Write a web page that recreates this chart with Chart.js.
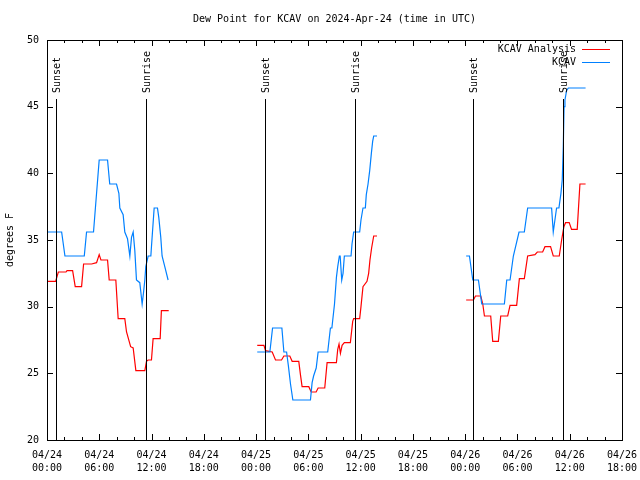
<!DOCTYPE html>
<html>
<head>
<meta charset="utf-8">
<script src="https://cdn.jsdelivr.net/npm/chart.js@4.4.1/dist/chart.umd.min.js"></script>
<style>
  html, body { margin: 0; padding: 0; background: #fff; }
  canvas { display: block; }
</style>
</head>
<body>
<canvas id="dewChart" width="640" height="480"></canvas>
<script>
// [hours since 04/24 00:00 UTC, dew point F]
const analysisDay1 = [[0, 31.9], [0.99, 31.9], [1.3, 32.6], [2.18, 32.6], [2.3, 32.7], [2.94, 32.7], [3.24, 31.5], [3.97, 31.5],
    [4.2, 33.2], [5.12, 33.2], [5.69, 33.3], [5.99, 33.9], [6.19, 33.5], [6.95, 33.5], [7.14, 32.0], [7.9, 32.0],
    [8.17, 29.1], [8.93, 29.1], [9.13, 28.1], [9.6, 27.0], [9.89, 26.9], [10.2, 25.2], [11.23, 25.2], [11.42, 25.9],
    [11.61, 26.0], [11.99, 26.0], [12.18, 27.6], [12.99, 27.6], [13.13, 29.7], [13.97, 29.7]];
const analysisDay2 = [[24.13, 27.1], [24.9, 27.1], [25.08, 26.7], [25.85, 26.6], [26.23, 26.0], [26.92, 26.0], [27.19, 26.3],
    [27.87, 26.3], [28.14, 25.9], [28.9, 25.9], [29.09, 24.9], [29.28, 24.0], [30.05, 24.0], [30.32, 23.6], [30.89, 23.6],
    [31.12, 23.9], [31.88, 23.9], [32.15, 25.8], [33.22, 25.8], [33.37, 26.8], [33.52, 27.2], [33.68, 26.5], [33.87, 27.1],
    [34.13, 27.3], [34.82, 27.3], [35.09, 28.9], [35.2, 29.1], [35.89, 29.1], [36.04, 30.0], [36.27, 31.5], [36.73, 31.9],
    [36.92, 32.5], [37.07, 33.5], [37.26, 34.4], [37.5, 35.3], [37.88, 35.3]];
const analysisDay3 = [[48.11, 30.5], [48.95, 30.5], [49.18, 30.8], [49.79, 30.8], [50.02, 30.2], [50.21, 29.3], [50.93, 29.3],
    [51.16, 27.4], [51.81, 27.4], [52.08, 29.3], [52.88, 29.3], [53.15, 30.1], [53.91, 30.1], [54.22, 32.1], [54.79, 32.1],
    [55.17, 33.8], [56.01, 33.9], [56.28, 34.1], [56.89, 34.1], [57.16, 34.5], [57.8, 34.5], [58.11, 33.8], [58.8, 33.8],
    [59.07, 35.0], [59.33, 36.0], [59.52, 36.3], [59.94, 36.3], [60.21, 35.8], [60.86, 35.8], [61.17, 39.2], [61.82, 39.2]];

const obsDay1 = [[0, 35.6], [1.68, 35.6], [2.06, 33.8], [4.28, 33.8], [4.54, 35.6], [5.34, 35.6], [5.99, 41.0], [6.95, 41.0],
    [7.2, 39.2], [7.98, 39.2], [8.25, 38.5], [8.36, 37.4], [8.74, 36.9], [8.93, 35.6], [9.24, 35.1], [9.51, 33.8],
    [9.7, 35.2], [9.89, 35.6], [10.08, 34.2], [10.27, 32.0], [10.65, 31.8], [10.77, 31.1], [10.92, 30.2], [11.07, 31.0],
    [11.23, 32.0], [11.34, 33.0], [11.61, 33.8], [11.92, 33.8], [11.99, 34.5], [12.3, 37.4], [12.68, 37.4], [12.83, 36.7],
    [13.06, 35.2], [13.21, 33.8], [13.52, 33.0], [13.9, 32.0]];
const obsDay2 = [[24.13, 26.6], [25.58, 26.6], [25.89, 28.4], [26.96, 28.4], [27.19, 26.6], [27.5, 26.6], [27.7, 25.6],
    [27.95, 24.2], [28.22, 23.0], [30.24, 23.0], [30.43, 24.3], [30.6, 24.8], [30.9, 25.4], [31.12, 26.6], [32.22, 26.6],
    [32.53, 28.4], [32.7, 28.4], [33.0, 30.2], [33.22, 32.2], [33.37, 33.0], [33.56, 33.8], [33.65, 33.8], [33.83, 32.0],
    [33.98, 32.5], [34.13, 33.8], [34.9, 33.8], [35.01, 34.7], [35.2, 35.6], [35.89, 35.6], [36.04, 36.5], [36.27, 37.4],
    [36.54, 37.4], [36.65, 38.4], [36.85, 39.2], [37.04, 40.2], [37.23, 41.5], [37.38, 42.4], [37.5, 42.8], [37.88, 42.8]];
const obsDay3 = [[48.11, 33.8], [48.49, 33.8], [48.87, 32.0], [49.52, 32.0], [49.9, 30.2], [52.5, 30.2], [52.77, 32.0],
    [53.15, 32.0], [53.53, 33.8], [54.18, 35.6], [54.79, 35.6], [55.17, 37.4], [57.92, 37.4], [58.11, 35.6], [58.3, 36.5],
    [58.49, 37.4], [58.76, 37.4], [58.99, 38.5], [59.14, 39.5], [59.26, 42.0], [59.35, 45.0], [59.45, 45.5], [59.64, 46.2],
    [59.84, 46.4], [61.82, 46.4]];

const sunTimes = [1.07, 11.38, 25.01, 35.32, 48.95, 59.26];
const sunLabels = ['Sunset', 'Sunrise', 'Sunset', 'Sunrise', 'Sunset', 'Sunrise'];
const seriesNames = ['KCAV Analysis', 'KCAV'];
const seriesColors = ['#ff0000', '#0080ff'];

const MONO = '"DejaVu Sans Mono", "Liberation Mono", monospace';

// join the days with a null so the line breaks
function joinDays(...days) {
    const pts = [];
    days.forEach((d, i) => {
        if (i > 0) pts.push({ x: d[0][0] - 0.01, y: null });
        d.forEach(p => pts.push({ x: p[0], y: p[1] }));
    });
    return pts;
}

const frame = {
    id: 'frame',
    afterDatasetsDraw(chart) {
        const { ctx, chartArea: a, scales: { x, y } } = chart;
        ctx.save();
        ctx.strokeStyle = '#000';
        ctx.fillStyle = '#000';
        ctx.lineWidth = 1;
        ctx.font = '10px ' + MONO;

        // sunrise / sunset markers
        sunTimes.forEach((t, i) => {
            const px = Math.round(x.getPixelForValue(t)) + 0.5;
            ctx.beginPath();
            ctx.moveTo(px, a.top + 59);
            ctx.lineTo(px, a.bottom);
            ctx.stroke();
            ctx.save();
            ctx.translate(px + 1, a.top + 53);
            ctx.rotate(-Math.PI / 2);
            ctx.textAlign = 'left';
            ctx.textBaseline = 'middle';
            ctx.fillText(sunLabels[i], 0, 0);
            ctx.restore();
        });

        // inward ticks, mirrored
        ctx.beginPath();
        for (let h = 2; h < 66; h += 2) {
            const px = Math.round(x.getPixelForValue(h)) + 0.5;
            const len = h % 6 === 0 ? 6 : 3;
            ctx.moveTo(px, a.bottom); ctx.lineTo(px, a.bottom - len);
            ctx.moveTo(px, a.top); ctx.lineTo(px, a.top + len);
        }
        for (let v = 25; v < 50; v += 5) {
            const py = Math.round(y.getPixelForValue(v)) + 0.5;
            ctx.moveTo(a.left, py); ctx.lineTo(a.left + 6, py);
            ctx.moveTo(a.right, py); ctx.lineTo(a.right - 6, py);
        }
        ctx.stroke();

        // border
        ctx.strokeRect(Math.round(a.left) + 0.5, Math.round(a.top) + 0.5,
            Math.round(a.right - a.left), Math.round(a.bottom - a.top));

        // title
        ctx.textAlign = 'center';
        ctx.textBaseline = 'middle';
        ctx.fillText('Dew Point for KCAV on 2024-Apr-24 (time in UTC)', (a.left + a.right) / 2, 19);

        // legend
        ctx.textAlign = 'right';
        seriesNames.forEach((name, i) => {
            const ly = 49 + i * 13;
            ctx.fillStyle = '#000';
            ctx.fillText(name, 576, ly);
            ctx.strokeStyle = seriesColors[i];
            ctx.beginPath();
            ctx.moveTo(582, ly + 0.5);
            ctx.lineTo(610, ly + 0.5);
            ctx.stroke();
        });
        ctx.restore();
    }
};

new Chart(document.getElementById('dewChart'), {
    type: 'line',
    data: {
        datasets: [
            {
                label: seriesNames[1],
                data: joinDays(obsDay1, obsDay2, obsDay3),
                borderColor: seriesColors[1],
                borderWidth: 1.2,
                pointRadius: 0,
                tension: 0,
                spanGaps: false
            },
            {
                label: seriesNames[0],
                data: joinDays(analysisDay1, analysisDay2, analysisDay3),
                borderColor: seriesColors[0],
                borderWidth: 1.2,
                pointRadius: 0,
                tension: 0,
                spanGaps: false
            }
        ]
    },
    options: {
        responsive: false,
        animation: false,
        devicePixelRatio: 1,
        layout: { padding: { top: 40, right: 18, left: 0, bottom: 0 } },
        plugins: {
            legend: { display: false },
            title: { display: false },
            tooltip: { enabled: false }
        },
        scales: {
            x: {
                type: 'linear',
                min: 0,
                max: 66,
                grid: { display: false, drawTicks: false },
                border: { display: false },
                ticks: {
                    stepSize: 6,
                    color: '#000',
                    padding: 9,
                    maxRotation: 0,
                    autoSkip: false,
                    font: { family: MONO, size: 10, lineHeight: 1.3 },
                    callback: (v) => {
                        const day = 24 + Math.floor(v / 24);
                        const hh = String(v % 24).padStart(2, '0');
                        return ['04/' + day, hh + ':00'];
                    }
                },
                afterFit: (s) => {
                    s.height = 40;
                    s.paddingLeft = 0;
                    s.paddingRight = 0;
                }
            },
            y: {
                min: 20,
                max: 50,
                grid: { display: false, drawTicks: false },
                border: { display: false },
                ticks: {
                    stepSize: 5,
                    color: '#000',
                    padding: 8,
                    font: { family: MONO, size: 10 }
                },
                title: {
                    display: true,
                    text: 'degrees F',
                    color: '#000',
                    font: { family: MONO, size: 10 }
                },
                afterFit: (s) => { s.width = 47; }
            }
        }
    },
    plugins: [frame]
});
</script>
</body>
</html>
